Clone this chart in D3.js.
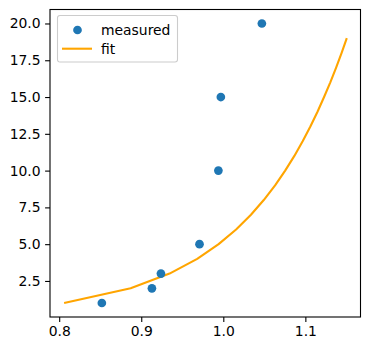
<!DOCTYPE html>
<html>
<head>
<meta charset="utf-8">
<script src="https://cdn.jsdelivr.net/npm/d3@7"></script>
<style>
  body { margin: 0; background: #fff; }
  svg { display: block; font-family: "DejaVu Sans", sans-serif; }
</style>
</head>
<body>
<div id="chart"></div>
<script>
// measured points
const measuredX = [0.852, 0.913, 0.924, 0.971, 0.994, 0.997, 1.047];
const measuredY = [1, 2, 3, 5, 10, 15, 20];

// fit curve
const fitY = [1, 2, 3, 4, 5, 6, 7, 8, 9, 10, 11, 12, 13, 14, 15, 16, 17, 18, 19];
const fitX = [0.8060, 0.8871, 0.9345, 0.9682, 0.9943, 1.0156, 1.0337, 1.0493, 1.0631, 1.0754,
              1.0866, 1.0967, 1.1061, 1.1148, 1.1228, 1.1304, 1.1375, 1.1442, 1.1505];

const xTicks = [0.8, 0.9, 1.0, 1.1];
const yTicks = [2.5, 5.0, 7.5, 10.0, 12.5, 15.0, 17.5, 20.0];

const width = 370, height = 351;
const margin = {left: 50, right: 9.5, top: 9.5, bottom: 34};
const fontSize = 13.9;

const svg = d3.select("#chart").append("svg")
  .attr("width", width)
  .attr("height", height);

const x = d3.scaleLinear()
  .domain([0.7888, 1.1672])
  .range([margin.left, width - margin.right]);

const y = d3.scaleLinear()
  .domain([0.05, 20.95])
  .range([height - margin.bottom, margin.top]);

// axes
const xAxis = svg.append("g")
  .attr("transform", `translate(0,${height - margin.bottom})`)
  .call(d3.axisBottom(x).tickValues(xTicks).tickFormat(d3.format(".1f"))
    .tickSizeOuter(0).tickSize(4.9).tickPadding(4.5));

const yAxis = svg.append("g")
  .attr("transform", `translate(${margin.left},0)`)
  .call(d3.axisLeft(y).tickValues(yTicks).tickFormat(d3.format(".1f"))
    .tickSizeOuter(0).tickSize(4.9).tickPadding(4.5));

svg.selectAll(".domain").remove();
svg.selectAll(".tick line").attr("stroke", "#000").attr("stroke-width", 1.1);
svg.selectAll(".tick text")
  .attr("fill", "#000")
  .attr("font-size", fontSize)
  .attr("font-family", "DejaVu Sans, sans-serif");

// frame
svg.append("rect")
  .attr("x", margin.left)
  .attr("y", margin.top)
  .attr("width", width - margin.left - margin.right)
  .attr("height", height - margin.top - margin.bottom)
  .attr("fill", "none")
  .attr("stroke", "#000")
  .attr("stroke-width", 1.1);

// fit line
const fitData = fitX.map((v, i) => ({x: v, y: fitY[i]}));
svg.append("path")
  .datum(fitData)
  .attr("fill", "none")
  .attr("stroke", "orange")
  .attr("stroke-width", 2.1)
  .attr("stroke-linejoin", "round")
  .attr("d", d3.line().x(d => x(d.x)).y(d => y(d.y)));

// measured points
const pts = measuredX.map((v, i) => ({x: v, y: measuredY[i]}));
svg.selectAll("circle.pt")
  .data(pts)
  .enter()
  .append("circle")
  .attr("class", "pt")
  .attr("cx", d => x(d.x))
  .attr("cy", d => y(d.y))
  .attr("r", 4.35)
  .attr("fill", "#1f77b4");

// legend
const legend = svg.append("g").attr("transform", "translate(57.5,15.5)");
legend.append("rect")
  .attr("width", 120)
  .attr("height", 46.5)
  .attr("rx", 2.5)
  .attr("fill", "#fff")
  .attr("fill-opacity", 0.8)
  .attr("stroke", "#ccc")
  .attr("stroke-width", 1.1);

legend.append("circle")
  .attr("cx", 20)
  .attr("cy", 14.5)
  .attr("r", 4.35)
  .attr("fill", "#1f77b4");

legend.append("line")
  .attr("x1", 4.5).attr("x2", 34.5)
  .attr("y1", 33.2).attr("y2", 33.2)
  .attr("stroke", "orange")
  .attr("stroke-width", 2.1);

legend.selectAll("text.lbl")
  .data(["measured", "fit"])
  .enter()
  .append("text")
  .attr("class", "lbl")
  .attr("x", 43.5)
  .attr("y", (d, i) => 19.5 + i * 18.8)
  .attr("font-size", fontSize)
  .attr("fill", "#000")
  .text(d => d);
</script>
</body>
</html>
